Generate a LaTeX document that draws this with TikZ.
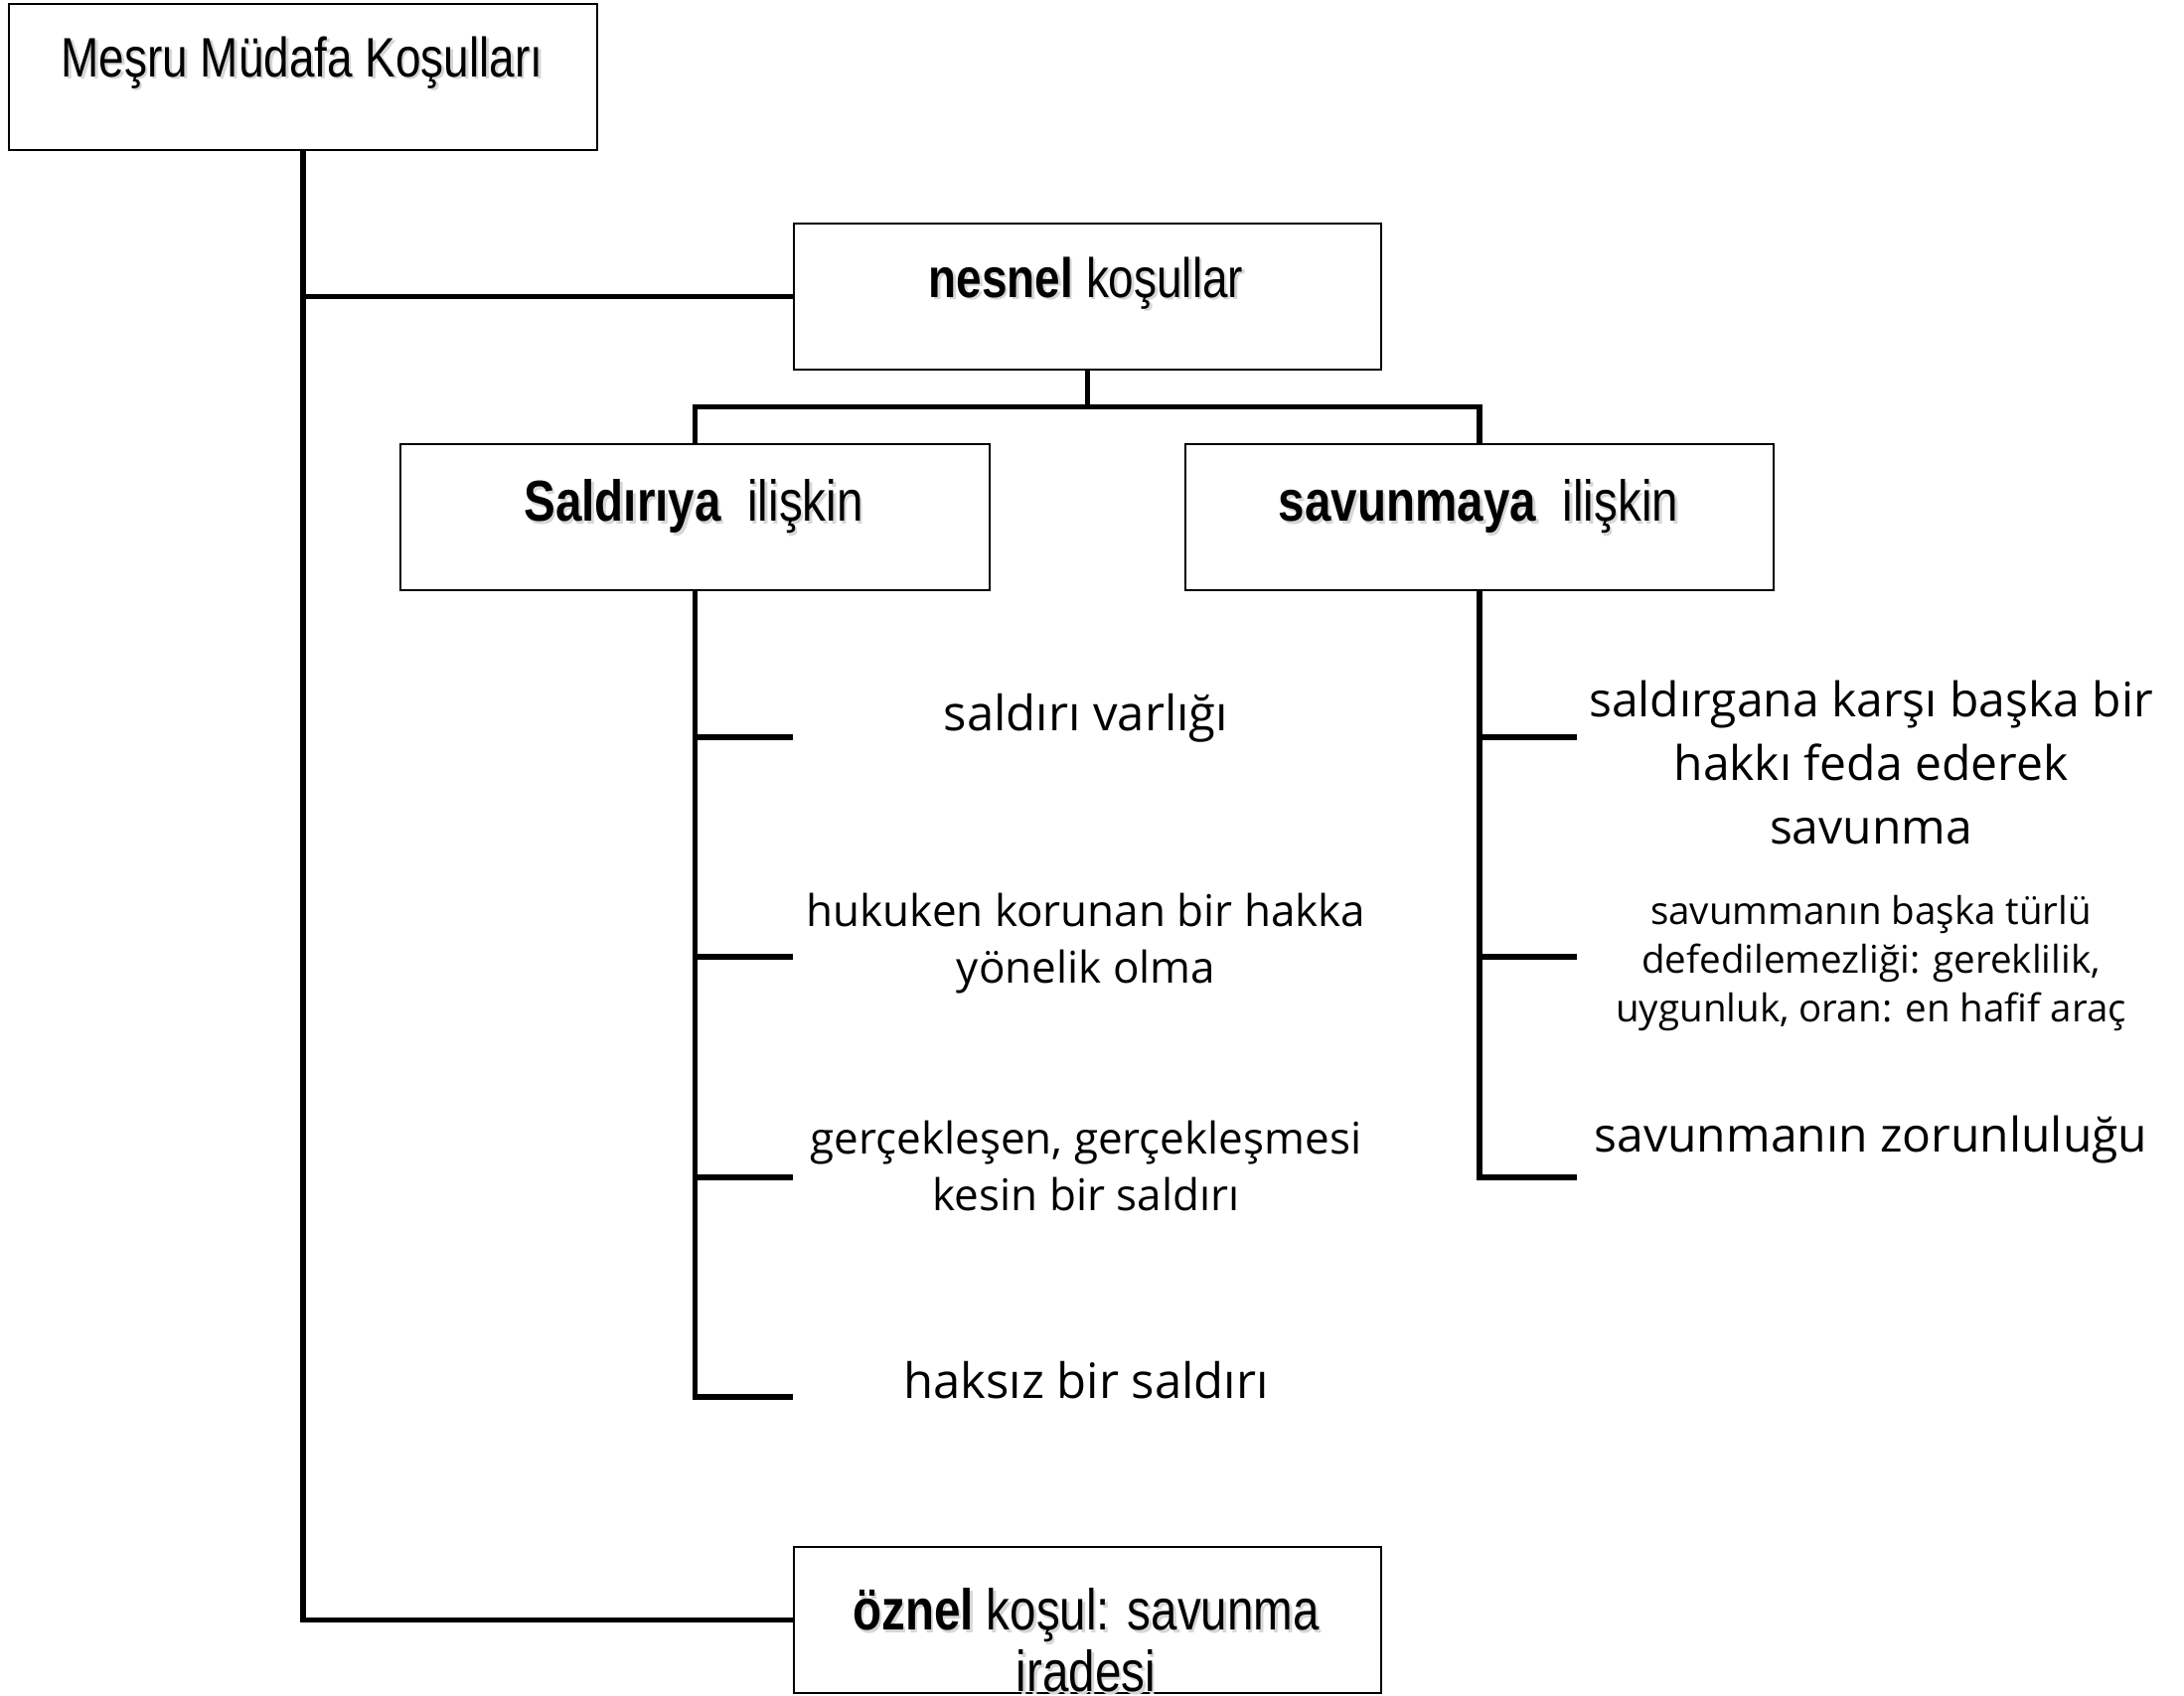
\documentclass[tikz,border=0pt]{standalone}
\usepackage{fontspec}
\setmainfont{Open Sans}
\newfontfamily\boxfont[FakeStretch=0.82]{Liberation Sans}
\begin{document}
\begin{tikzpicture}[x=1pt,y=-1pt,
  box/.style={draw, line width=1.5pt, inner sep=0pt, anchor=north west, minimum height=147pt},
  boxtext/.style={font=\boxfont\fontsize{56}{62}\selectfont, align=center, inner sep=0pt},
  boxtextL/.style={font=\boxfont\fontsize{58}{62}\selectfont, align=center, inner sep=0pt},
  shadow/.style={text=black!16},
  conn/.style={line width=5.5pt, line join=miter},
  itemL/.style={font=\fontsize{44}{57}\selectfont, align=center, inner sep=0pt},
  itemLb/.style={font=\fontsize{49}{57}\selectfont, align=center, inner sep=0pt},
  itemR/.style={font=\fontsize{48}{64}\selectfont, align=center, inner sep=0pt},
  itemRs/.style={font=\fontsize{38.5}{49}\selectfont, align=center, inner sep=0pt}]
\useasboundingbox (0,0) rectangle (2198,1706);
% boxes
\node[box, minimum width=592pt] (top) at (8,3) {};
\node[box, minimum width=591pt] (nes) at (798,224) {};
\node[box, minimum width=593pt] (sal) at (402,446) {};
\node[box, minimum width=592pt] (sav) at (1192,446) {};
\node[box, minimum width=591pt] (oz) at (798,1556) {};
% box texts with soft shadow
\node[boxtext, shadow] (topS) at (306.5,65.5) {Meşru Müdafa Koşulları};
\node[boxtext] (topT) at (304,63) {Meşru Müdafa Koşulları};
\node[boxtext, shadow] (nesS) at (1095.5,287.5) {\textbf{nesnel} koşullar};
\node[boxtext] (nesT) at (1093,285) {\textbf{nesnel} koşullar};
\node[boxtextL, shadow] (salS) at (700.5,512.5) {\textbf{Saldırıya}\ \ ilişkin};
\node[boxtextL] (salT) at (698,510) {\textbf{Saldırıya}\ \ ilişkin};
\node[boxtextL, shadow] (savS) at (1490.5,512.5) {\textbf{savunmaya}\ \ ilişkin};
\node[boxtextL] (savT) at (1488,510) {\textbf{savunmaya}\ \ ilişkin};
\node[boxtextL, shadow] (ozS) at (1095.5,1653.5) {\textbf{öznel} koşul: savunma\\iradesi};
\node[boxtextL] (ozT) at (1093,1651) {\textbf{öznel} koşul: savunma\\iradesi};
% tick end points
\coordinate (l1) at (798,742);
\coordinate (l2) at (798,963);
\coordinate (l3) at (798,1185);
\coordinate (l4) at (798,1406);
\coordinate (r1) at (1587,742);
\coordinate (r2) at (1587,963);
\coordinate (r3) at (1587,1185);
% connectors
\draw[conn] (top.south) -- (top.south |- oz.west) -- (oz.west);
\draw[conn] (top.south |- nes.west) -- (nes.west);
\draw[conn] (nes.south) -- ++(0,37) coordinate (nj);
\draw[conn] (sal.north) -- (sal.north |- nj) -- (sav.north |- nj) -- (sav.north);
\draw[conn] (sal.south) -- (sal.south |- l4) -- (l4);
\draw[conn] (sal.south |- l1) -- (l1);
\draw[conn] (sal.south |- l2) -- (l2);
\draw[conn] (sal.south |- l3) -- (l3);
\draw[conn] (sav.south) -- (sav.south |- r3) -- (r3);
\draw[conn] (sav.south |- r1) -- (r1);
\draw[conn] (sav.south |- r2) -- (r2);
% item texts
\node[itemLb] (i1) at (1093,723) {saldırı varlığı};
\node[itemL] (i2) at (1093,950) {hukuken korunan bir hakka\\yönelik olma};
\node[itemL] (i3) at (1093,1173) {gerçekleşen, gerçekleşmesi\\kesin bir saldırı};
\node[itemLb] (i4) at (1093,1389) {haksız bir saldırı};
\node[itemR] (j1) at (1883,767) {saldırgana karşı başka bir\\hakkı feda ederek\\savunma};
\node[itemRs] (j2) at (1883,969) {savummanın başka türlü\\defedilemezliği: gereklilik,\\uygunluk, oran: en hafif araç};
\node[itemR] (j3) at (1883,1147) {savunmanın zorunluluğu};
\end{tikzpicture}
\end{document}
